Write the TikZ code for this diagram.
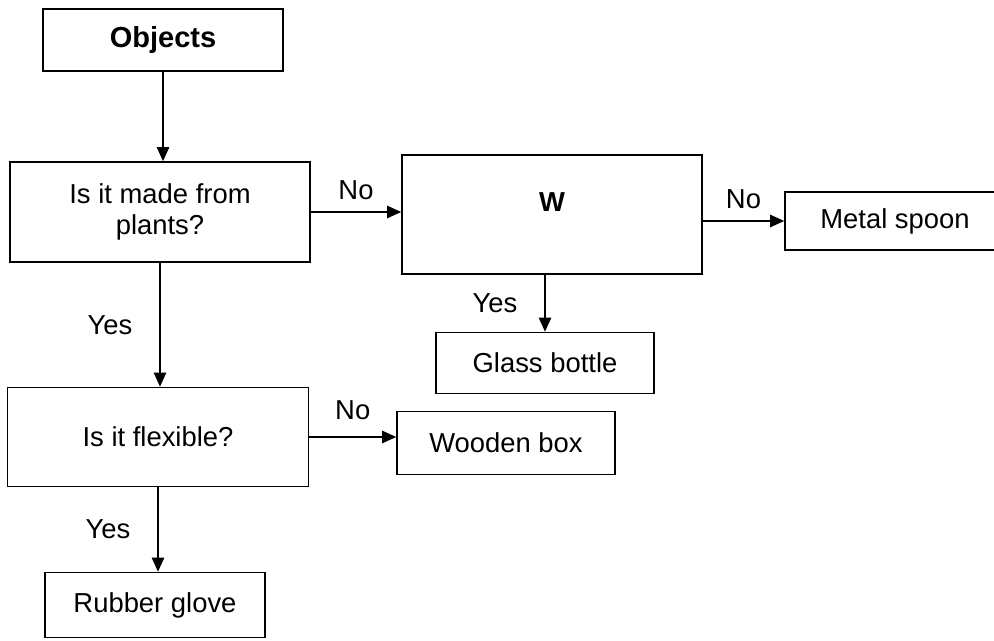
\documentclass[tikz,border=0pt]{standalone}
\usepackage{fontspec}
\setmainfont{Liberation Sans}
\usetikzlibrary{arrows.meta}
\tikzset{>={Triangle[length=8pt,width=7pt]}}
\tikzset{%
    box/.style={draw, line width=0.9pt, inner sep=0pt, align=center,
        font=\fontsize{15.6}{17.5}\selectfont},
    flow/.style={->, line width=0.9pt},
    answer/.style={font=\fontsize{15.6}{17.5}\selectfont}
}

\begin{document}
\begin{tikzpicture}[x=0.02cm,y=-0.02cm]
    \useasboundingbox (0,0) rectangle (994,641);
    \node[box,minimum width=240*0.02cm,minimum height=62*0.02cm,font=\fontsize{16.5}{17.5}\selectfont\bfseries] (obj) at (163,40) {Objects};
    \node[box,minimum width=300*0.02cm,minimum height=100*0.02cm] (plants) at (160,212) {Is it made from\\plants?};
    \node[box,minimum width=300*0.02cm,minimum height=119*0.02cm,
        label={[answer,font=\fontsize{15.6}{17.5}\selectfont\bfseries,yshift=0.25cm]center:W}] (w) at (552,214.5) {};
    \node[box,minimum width=220*0.02cm,minimum height=58*0.02cm] (spoon) at (895,221) {Metal spoon};
    \node[box,minimum width=218*0.02cm,minimum height=61*0.02cm] (glass) at (545,363) {Glass bottle};
    \node[box,minimum width=301*0.02cm,minimum height=99*0.02cm] (flex) at (158,437) {Is it flexible?};
    \node[box,minimum width=218*0.02cm,minimum height=63*0.02cm] (wood) at (506,443) {Wooden box};
    \node[box,minimum width=220*0.02cm,minimum height=65*0.02cm] (glove) at (155,605) {Rubber glove};
    \draw[flow] (obj.south) -- (obj.south |- plants.north);
    \draw[flow] (plants.east) -- (plants.east -| w.west) node[answer,midway,above=3pt]{No};
    \draw[flow] (w.east |- spoon) -- (spoon.west) node[answer,midway,above=3pt]{No};
    \draw[flow] (glass.north |- w.south) -- (glass.north) node[answer,midway,left=12pt]{Yes};
    \draw[flow] (plants.south) -- (plants.south |- flex.north) node[answer,midway,left=12pt]{Yes};
    \draw[flow] (flex.east) -- (flex.east -| wood.west) node[answer,midway,above=6pt]{No};
    \draw[flow] (flex.south) -- (flex.south |- glove.north) node[answer,midway,left=12pt]{Yes};
  \end{tikzpicture}
\end{document}
